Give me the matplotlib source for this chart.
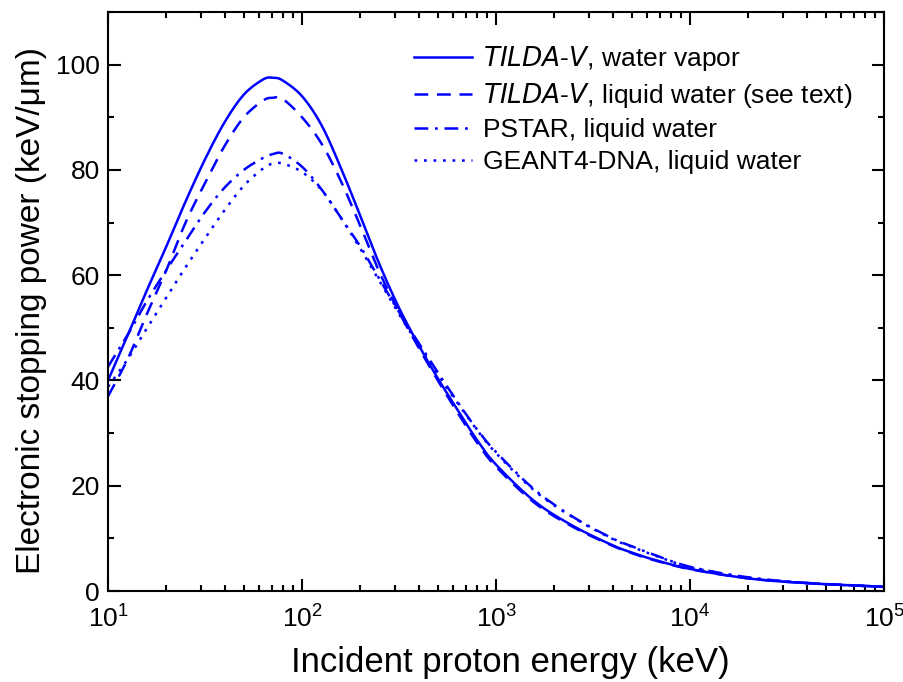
import numpy as np
import matplotlib
matplotlib.use("Agg")
import matplotlib.pyplot as plt
from matplotlib.ticker import LogLocator, MultipleLocator, NullFormatter

plt.rcParams['font.family'] = ['Liberation Sans', 'DejaVu Sans']
plt.rcParams['mathtext.default'] = 'regular'

# incident proton energy grid (keV), shared by all curves
energy = [10, 12.6, 15.8, 20.0, 25.1, 31.6, 39.8, 50.1, 63.1, 70.8, 79.4, 100, 126, 158, 200, 251, 316,
          398, 501, 631, 794, 1000, 1585, 2512, 3981, 5012, 6310, 10000, 19953, 39811, 100000]

# stopping power (keV/um)
tilda_vapor = [40.0, 48.5, 57.0, 65.5, 74.0, 82.0, 89.0, 94.3, 97.2, 97.5, 97.0, 94.0, 88.5, 80.5, 71.2, 62.0, 53.8,
               46.8, 40.4, 34.5, 28.8, 24.0, 17.0, 12.3, 8.7, 7.3, 6.1, 4.2, 2.4, 1.5, 0.8]
tilda_liquid = [37.0, 44.0, 52.5, 61.0, 70.0, 77.5, 84.5, 90.0, 93.2, 93.7, 93.5, 90.0, 85.0, 78.0, 69.3, 60.5, 53.0,
                46.3, 40.0, 34.0, 28.3, 23.6, 16.7, 12.1, 8.6, 7.2, 6.0, 4.15, 2.4, 1.5, 0.8]
pstar = [42.6, 48.6, 55.0, 61.0, 66.5, 72.0, 76.6, 80.0, 82.3, 83.0, 83.1, 80.6, 76.3, 71.0, 65.4, 59.2, 53.0,
         47.2, 41.5, 36.0, 30.8, 26.4, 19.2, 14.0, 10.0, 8.5, 7.1, 4.6, 2.6, 1.55, 0.8]
geant4 = [38.8, 44.0, 49.8, 55.8, 61.5, 67.0, 72.3, 77.0, 80.3, 81.2, 81.2, 79.6, 76.2, 71.0, 65.0, 58.8, 52.6,
          46.8, 41.1, 35.8, 30.7, 26.2, 19.0, 13.9, 9.9, 8.4, 7.0, 4.55, 2.55, 1.5, 0.78]


def curve(e, s, n=30):
    # Catmull-Rom through the read points, in log10(E)
    x = np.log10(e)
    y = np.asarray(s, float)
    px = np.concatenate([[2 * x[0] - x[1]], x, [2 * x[-1] - x[-2]]])
    py = np.concatenate([[2 * y[0] - y[1]], y, [2 * y[-1] - y[-2]]])
    xs, ys = [], []
    t = np.linspace(0, 1, n, endpoint=False)
    for i in range(1, len(px) - 2):
        for arr, out in ((px, xs), (py, ys)):
            p0, p1, p2, p3 = arr[i - 1], arr[i], arr[i + 1], arr[i + 2]
            out.extend(0.5 * (2 * p1 + (-p0 + p2) * t + (2 * p0 - 5 * p1 + 4 * p2 - p3) * t ** 2
                              + (-p0 + 3 * p1 - 3 * p2 + p3) * t ** 3))
    xs.append(x[-1])
    ys.append(y[-1])
    return 10 ** np.array(xs), np.array(ys)


fig = plt.figure(figsize=(9.04, 6.82), dpi=100)
ax = fig.add_axes([0.1195, 0.1334, 0.8585, 0.849])

blue = '#0000ff'
lw = 1.8
x, y = curve(energy, tilda_vapor)
ax.plot(x, y, color=blue, lw=lw, ls='-', label=r'$\it{TILDA}$-$\it{V}$, water vapor')
x, y = curve(energy, tilda_liquid)
ax.plot(x, y, color=blue, lw=lw, ls=(0, (5.5, 3.5)), label=r'$\it{TILDA}$-$\it{V}$, liquid water (see text)')
x, y = curve(energy, pstar)
ax.plot(x, y, color=blue, lw=lw, ls=(0, (5.5, 2.7, 1.1, 2.7)), label='PSTAR, liquid water')
x, y = curve(energy, geant4)
ax.plot(x, y, color=blue, lw=lw, ls=(0, (1.1, 2.7)), label='GEANT4-DNA, liquid water')

ax.set_xscale('log')
ax.set_xlim(10, 1e5)
ax.set_ylim(0, 110)
ax.yaxis.set_major_locator(MultipleLocator(20))
ax.yaxis.set_minor_locator(MultipleLocator(10))
ax.xaxis.set_minor_locator(LogLocator(base=10, subs=np.arange(2, 10)))
ax.xaxis.set_minor_formatter(NullFormatter())

ax.tick_params(which='both', direction='in', top=True, right=True, width=1.5, labelsize=19)
ax.tick_params(which='major', length=9)
ax.tick_params(which='minor', length=4.5)
ax.tick_params(axis='x', pad=10)
ax.tick_params(axis='y', pad=6)
for sp in ax.spines.values():
    sp.set_linewidth(1.5)

ax.set_xlabel('Incident proton energy (keV)', fontsize=25)
ax.set_ylabel('Electronic stopping power (keV/\u03bcm)', fontsize=24, labelpad=6)
ax.xaxis.set_label_coords(0.518, -0.095)
ax.yaxis.label.set_y(0.485)

leg = ax.legend(loc='upper right', bbox_to_anchor=(0.99, 0.985), frameon=False, fontsize=19,
                handlelength=2.2, handletextpad=0.4, labelspacing=0.3)

fig.savefig('out.png', dpi=100)
